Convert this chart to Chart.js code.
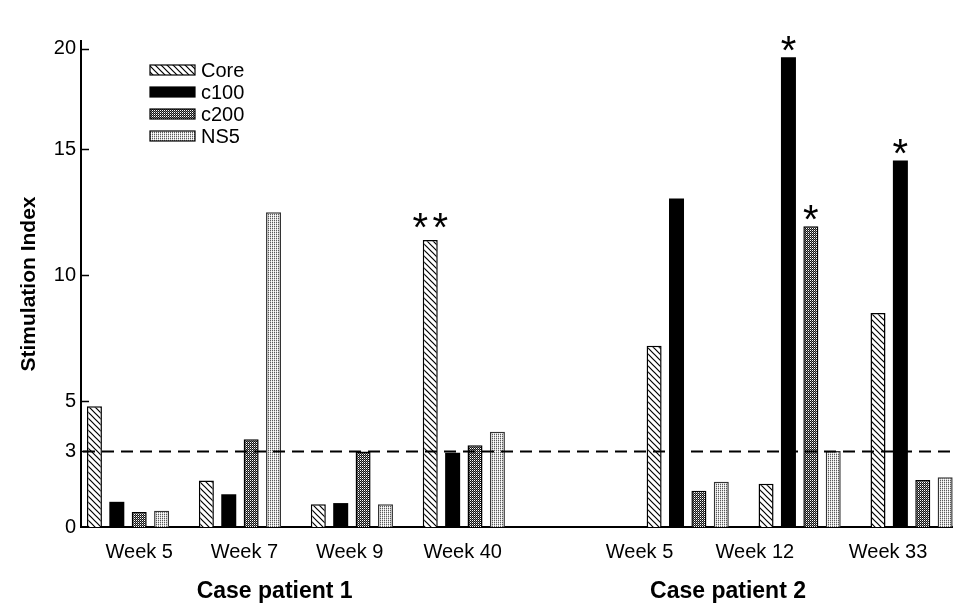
<!DOCTYPE html>
<html>
<head>
<meta charset="utf-8">
<script src="https://cdn.jsdelivr.net/npm/chart.js@4.4.1/dist/chart.umd.min.js"></script>
<style>
  body { margin: 0; background: #fff; }
  #wrap { width: 953px; height: 605px; }
</style>
</head>
<body>
<div id="wrap"><canvas id="chart" width="953" height="605"></canvas></div>
<script>
// values (gap slot between the two patients)
const categories = ['Week 5', 'Week 7', 'Week 9', 'Week 40', '', 'Week 5', 'Week 12', 'Week 33'];
const coreValues = [4.8, 1.85, 0.9, 11.4, null, 7.2, 1.72, 8.5];
const c100Values = [1.0, 1.3, 0.95, 2.95, null, 13.05, 18.65, 14.55];
const c200Values = [0.6, 3.48, 3.0, 3.25, null, 1.44, 11.94, 1.87];
const ns5Values = [0.65, 12.5, 0.9, 3.78, null, 1.8, 3.02, 1.98];
const patients = ['Case patient 1', 'Case patient 2'];
const yTickValues = [0, 3, 5, 10, 15, 19];
const yTickLabels = ['0', '3', '5', '10', '15', '20'];
const threshold = 3;
const stars = [
  { series: 0, cat: 3, text: '**' },
  { series: 1, cat: 6, text: '*' },
  { series: 2, cat: 6, text: '*' },
  { series: 1, cat: 7, text: '*' }
];

// where the labels sit on the category axis
const weekLabelAt = [0.1, 1.04, 1.98, 2.99, 4.57, 5.6, 6.79];
const patientLabelAt = [1.31, 5.36];
const X_MIN = -0.42, X_MAX = 7.37;

Chart.defaults.font.family = "'Liberation Sans', Arial, sans-serif";
Chart.defaults.color = '#000';

function makePattern(size, paint) {
  const c = document.createElement('canvas');
  c.width = c.height = size;
  const g = c.getContext('2d');
  paint(g, size);
  return g.createPattern(c, 'repeat');
}

const hatch = makePattern(6, (g, n) => {
  g.fillStyle = '#fff';
  g.fillRect(0, 0, n, n);
  g.strokeStyle = '#000';
  g.lineWidth = 1.2;
  g.beginPath();
  g.moveTo(-1, -1); g.lineTo(n + 1, n + 1);
  g.moveTo(-1, n - 1); g.lineTo(1, n + 1);
  g.moveTo(n - 1, -1); g.lineTo(n + 1, 1);
  g.stroke();
});

const darkDots = makePattern(4, (g, n) => {
  const img = g.createImageData(n, n);
  for (let y = 0; y < n; y++) {
    for (let x = 0; x < n; x++) {
      let v = 20;
      if (x % 2 === 0 && y % 2 === 0) v = 255;
      else if (x % 2 === 1 && y % 2 === 1) v = 120;
      const k = (y * n + x) * 4;
      img.data[k] = img.data[k + 1] = img.data[k + 2] = v;
      img.data[k + 3] = 255;
    }
  }
  g.putImageData(img, 0, 0);
});

const lightGrid = makePattern(2, (g, n) => {
  const shades = [[90, 235], [200, 255]];
  const img = g.createImageData(n, n);
  for (let y = 0; y < n; y++) {
    for (let x = 0; x < n; x++) {
      const k = (y * n + x) * 4;
      img.data[k] = img.data[k + 1] = img.data[k + 2] = shades[y][x];
      img.data[k + 3] = 255;
    }
  }
  g.putImageData(img, 0, 0);
});

const series = [
  { label: 'Core', values: coreValues, fill: hatch, border: '#000', bw: 1.5 },
  { label: 'c100', values: c100Values, fill: '#000', border: '#000', bw: 0 },
  { label: 'c200', values: c200Values, fill: darkDots, border: '#000', bw: 1.5 },
  { label: 'NS5', values: ns5Values, fill: lightGrid, border: '#333', bw: 1.5 }
];

const toPoints = vals => vals.map((v, i) => ({ x: i, y: v })).filter(p => p.y !== null);
const weekLabels = categories.filter(c => c !== '');

const refLine = {
  id: 'refLine',
  afterDatasetsDraw(chart) {
    const { ctx, chartArea, scales } = chart;
    const y = scales.y.getPixelForValue(threshold);
    ctx.save();
    ctx.strokeStyle = '#000';
    ctx.lineWidth = 2;
    ctx.setLineDash([12, 7]);
    ctx.beginPath();
    ctx.moveTo(chartArea.left + 2, y);
    ctx.lineTo(chartArea.right, y);
    ctx.stroke();
    ctx.restore();
  }
};

const innerTicks = {
  id: 'innerTicks',
  afterDraw(chart) {
    const { ctx, chartArea, scales } = chart;
    ctx.save();
    ctx.strokeStyle = '#000';
    ctx.lineWidth = 1.5;
    scales.y.ticks.forEach(t => {
      if (t.value === 0) return;
      const y = Math.round(scales.y.getPixelForValue(t.value)) + 0.5;
      ctx.beginPath();
      ctx.moveTo(chartArea.left, y);
      ctx.lineTo(chartArea.left + 8, y);
      ctx.stroke();
    });
    ctx.restore();
  }
};

const starMarks = {
  id: 'starMarks',
  afterDatasetsDraw(chart) {
    const ctx = chart.ctx;
    ctx.save();
    ctx.fillStyle = '#000';
    ctx.font = "40px 'Liberation Sans', Arial, sans-serif";
    ctx.textAlign = 'center';
    ctx.textBaseline = 'alphabetic';
    const m = ctx.measureText('*');
    const mid = (m.actualBoundingBoxAscent - m.actualBoundingBoxDescent) / 2;
    stars.forEach(s => {
      const ds = chart.data.datasets[s.series];
      const j = ds.data.findIndex(p => p.x === s.cat);
      const bar = chart.getDatasetMeta(s.series).data[j];
      const n = s.text.length;
      const gap = n > 1 ? 20 : 0;
      const cy = bar.y - (n > 1 ? 19 : 14);
      for (let k = 0; k < n; k++) {
        const cx = bar.x + (k - (n - 1) / 2) * gap;
        ctx.fillText('*', cx, cy + mid);
      }
    });
    ctx.restore();
  }
};

const boxLegend = {
  id: 'boxLegend',
  afterDraw(chart) {
    const ctx = chart.ctx;
    ctx.save();
    ctx.font = "20px 'Liberation Sans', Arial, sans-serif";
    ctx.textBaseline = 'middle';
    chart.data.datasets.forEach((ds, i) => {
      const cy = 70 + i * 22;
      ctx.fillStyle = ds.backgroundColor;
      ctx.fillRect(150, cy - 5, 45, 10);
      ctx.strokeStyle = '#000';
      ctx.lineWidth = 1.2;
      ctx.strokeRect(150, cy - 5, 45, 10);
      ctx.fillStyle = '#000';
      ctx.fillText(ds.label, 201, cy + 1);
    });
    ctx.restore();
  }
};

new Chart(document.getElementById('chart'), {
  type: 'bar',
  data: {
    datasets: series.map(s => ({
      label: s.label,
      data: toPoints(s.values),
      backgroundColor: s.fill,
      borderColor: s.border,
      borderWidth: s.bw,
      categoryPercentage: 0.8,
      barPercentage: 0.67,
      xAxisID: 'x'
    }))
  },
  options: {
    responsive: false,
    animation: false,
    layout: { padding: { top: 41, left: 0, right: 0, bottom: 0 } },
    plugins: { legend: { display: false }, tooltip: { enabled: false } },
    scales: {
      x: {
        type: 'linear', position: 'bottom', min: X_MIN, max: X_MAX, offset: false, weight: 0,
        grid: { display: false, drawTicks: false },
        border: { display: true, color: '#000', width: 2 },
        ticks: { display: false },
        afterBuildTicks: s => { s.ticks = categories.map((c, i) => ({ value: i })); },
        afterFit: s => { s.height = 0; }
      },
      weeks: {
        type: 'linear', position: 'bottom', min: X_MIN, max: X_MAX, offset: false, weight: 1,
        grid: { display: false, drawTicks: false },
        border: { display: false },
        ticks: {
          autoSkip: false, maxRotation: 0, padding: 13, color: '#000',
          font: { size: 20 },
          callback: (v, i) => weekLabels[i]
        },
        afterBuildTicks: s => { s.ticks = weekLabelAt.map(v => ({ value: v })); },
        afterFit: s => { s.height = 40; }
      },
      patients: {
        type: 'linear', position: 'bottom', min: X_MIN, max: X_MAX, offset: false, weight: 2,
        grid: { display: false, drawTicks: false },
        border: { display: false },
        ticks: {
          autoSkip: false, maxRotation: 0, padding: 11, color: '#000',
          font: { size: 23, weight: 'bold' },
          callback: (v, i) => patients[i]
        },
        afterBuildTicks: s => { s.ticks = patientLabelAt.map(v => ({ value: v })); },
        afterFit: s => { s.height = 38; }
      },
      y: {
        min: 0, max: 19.3,
        grid: { display: false, drawTicks: false },
        border: { display: true, color: '#000', width: 2 },
        ticks: {
          padding: 5, color: '#000', font: { size: 20 },
          callback: (v, i) => yTickLabels[i]
        },
        afterBuildTicks: s => { s.ticks = yTickValues.map(v => ({ value: v })); },
        afterFit: s => { s.width = 81; },
        title: {
          display: true, text: 'Stimulation Index', color: '#000',
          font: { size: 21, weight: 'bold' },
          padding: { top: 17, bottom: 0 }
        }
      }
    }
  },
  plugins: [refLine, innerTicks, starMarks, boxLegend]
});
</script>
</body>
</html>
